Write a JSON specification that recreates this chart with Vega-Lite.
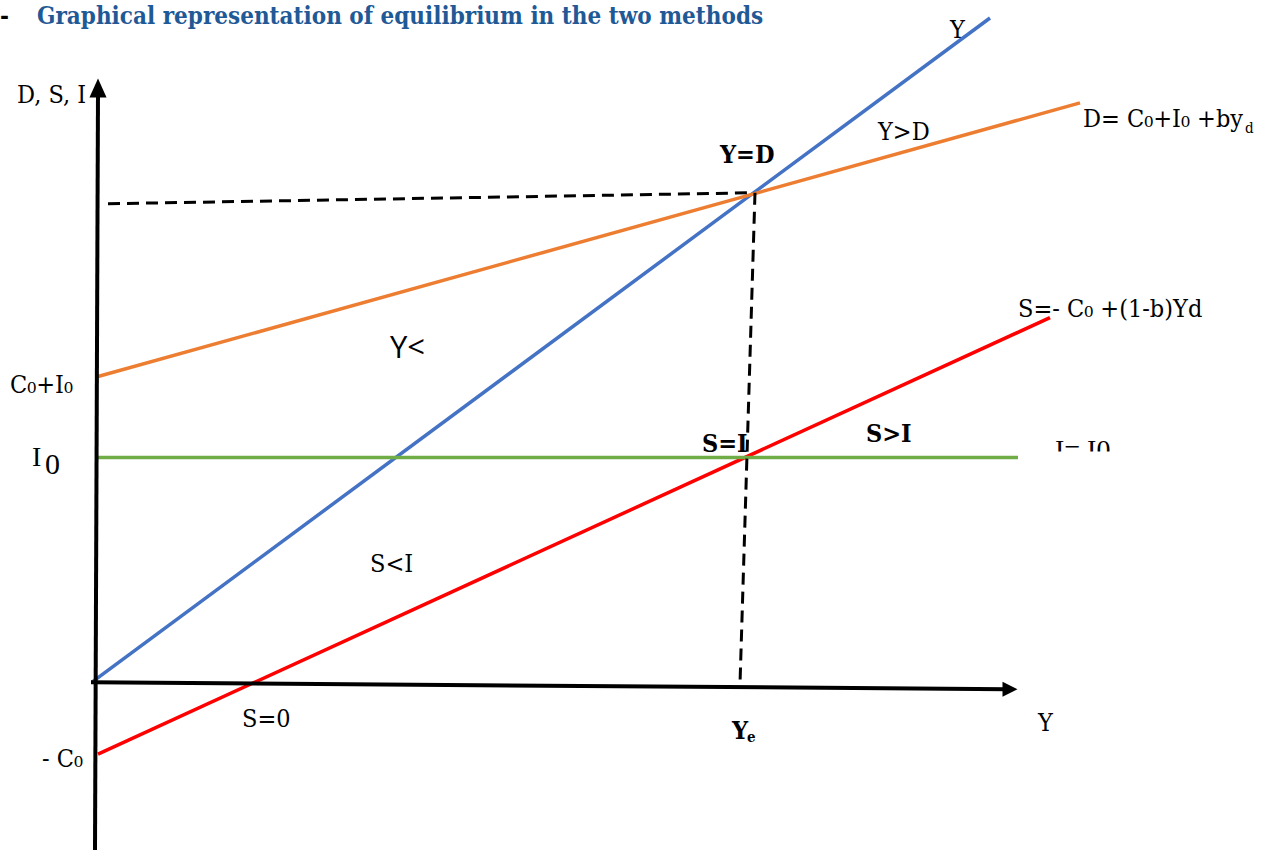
{
  "$schema": "https://vega.github.io/schema/vega-lite/v6.json",
  "width": 1264,
  "height": 852,
  "autosize": {"type": "fit", "contains": "padding"},
  "padding": 0,
  "background": "white",
  "config": {"view": {"stroke": null}},
  "datasets": {
    "seg": [
      {"k": "axis", "s": "yaxis", "x": 0, "y": -168, "x2": 3, "y2": 590},
      {"k": "axis", "s": "xaxis", "x": -4, "y": 0, "x2": 912, "y2": -7},
      {"k": "line", "s": "Y", "x": -3, "y": 0, "x2": 895, "y2": 665},
      {"k": "line", "s": "D", "x": 3, "y": 306, "x2": 985, "y2": 580},
      {"k": "line", "s": "S", "x": 3, "y": -72, "x2": 955, "y2": 365},
      {"k": "line", "s": "I", "x": 3, "y": 225, "x2": 923, "y2": 225},
      {"k": "dash", "s": "h", "x": 13, "y": 479, "x2": 657, "y2": 490},
      {"k": "dash", "s": "v", "x": 660, "y": 490, "x2": 645, "y2": -2}
    ],
    "arrowUp": [{"x": 3, "y": 595}],
    "arrowRight": [{"x": 915, "y": -7}],
    "title": [{"x": -58, "y": 659, "t": "Graphical representation of equilibrium in the two methods"}],
    "dashmark": [{"x": -95, "y": 659, "t": "-"}],
    "lab": [
      {"x": -78, "y": 580, "t": "D, S, I"},
      {"x": 855, "y": 645, "t": "Y"},
      {"x": 783, "y": 543, "t": "Y>D"},
      {"x": 988, "y": 556, "t": "D= C₀+I₀ +by"},
      {"x": 923, "y": 366, "t": "S=- C₀ +(1-b)Yd"},
      {"x": -85, "y": 290, "t": "C₀+I₀"},
      {"x": 275, "y": 110, "t": "S<I"},
      {"x": 147, "y": -45, "t": "S=0"},
      {"x": 943, "y": -49, "t": "Y"},
      {"x": -53, "y": -85, "t": "- C₀"}
    ],
    "sub": [
      {"x": 1150, "y": 550, "t": "d"}
    ],
    "bold": [
      {"x": 625, "y": 520, "t": "Y=D"},
      {"x": 607, "y": 230, "t": "S=I"},
      {"x": 771, "y": 240, "t": "S>I"},
      {"x": 637, "y": -57, "t": "Y"}
    ],
    "subb": [{"x": 652, "y": -60, "t": "e"}],
    "sans": [{"x": 295, "y": 325, "t": "Y<"}],
    "timesI": [{"x": -63, "y": 216, "t": "I"}],
    "times0": [{"x": -50, "y": 208, "t": "0"}],
    "clipped": [{"x": 960, "y": 223, "t": "I= I0"}],
    "cover": [{"x": 940, "y": 231, "x2": 1060, "y2": 195}]
  },
  "encoding": {
    "x": {"field": "x", "type": "quantitative", "scale": {"domain": [-95, 1169], "nice": false, "zero": false}, "axis": null},
    "y": {"field": "y", "type": "quantitative", "scale": {"domain": [-169, 683], "nice": false, "zero": false}, "axis": null}
  },
  "layer": [
    {
      "data": {"name": "seg"},
      "transform": [{"filter": "datum.k == 'line'"}],
      "mark": {"type": "rule", "strokeWidth": 3.5},
      "encoding": {
        "x2": {"field": "x2"},
        "y2": {"field": "y2"},
        "color": {"field": "s", "type": "nominal", "scale": {"domain": ["Y", "D", "S", "I"], "range": ["#4472C4", "#ED7D31", "#FF0000", "#70AD47"]}, "legend": null}
      }
    },
    {
      "data": {"name": "seg"},
      "transform": [{"filter": "datum.k == 'axis'"}],
      "mark": {"type": "rule", "strokeWidth": 4, "color": "black"},
      "encoding": {"x2": {"field": "x2"}, "y2": {"field": "y2"}}
    },
    {
      "data": {"name": "seg"},
      "transform": [{"filter": "datum.k == 'dash'"}],
      "mark": {"type": "rule", "strokeWidth": 3, "color": "black", "strokeDash": [12, 7]},
      "encoding": {"x2": {"field": "x2"}, "y2": {"field": "y2"}}
    },
    {
      "data": {"name": "arrowUp"},
      "mark": {"type": "point", "shape": "M0,-1L0.9,1L-0.9,1Z", "size": 361, "filled": true, "color": "black", "opacity": 1}
    },
    {
      "data": {"name": "arrowRight"},
      "mark": {"type": "point", "shape": "M1,0L-1,1L-1,-1Z", "size": 225, "filled": true, "color": "black", "opacity": 1}
    },
    {
      "data": {"name": "title"},
      "mark": {"type": "text", "align": "left", "baseline": "alphabetic", "font": "DejaVu Serif Condensed", "fontWeight": "bold", "fontSize": 24, "color": "#1f5996"},
      "encoding": {"text": {"field": "t"}}
    },
    {
      "data": {"name": "dashmark"},
      "mark": {"type": "text", "align": "left", "baseline": "alphabetic", "font": "DejaVu Serif Condensed", "fontWeight": "bold", "fontSize": 24, "color": "black"},
      "encoding": {"text": {"field": "t"}}
    },
    {
      "data": {"name": "lab"},
      "mark": {"type": "text", "align": "left", "baseline": "alphabetic", "font": "DejaVu Serif Condensed", "fontSize": 25, "color": "black"},
      "encoding": {"text": {"field": "t"}}
    },
    {
      "data": {"name": "sub"},
      "mark": {"type": "text", "align": "left", "baseline": "alphabetic", "font": "DejaVu Serif Condensed", "fontSize": 15, "color": "black"},
      "encoding": {"text": {"field": "t"}}
    },
    {
      "data": {"name": "bold"},
      "mark": {"type": "text", "align": "left", "baseline": "alphabetic", "font": "DejaVu Serif Condensed", "fontWeight": "bold", "fontSize": 25, "color": "black"},
      "encoding": {"text": {"field": "t"}}
    },
    {
      "data": {"name": "subb"},
      "mark": {"type": "text", "align": "left", "baseline": "alphabetic", "font": "DejaVu Serif Condensed", "fontWeight": "bold", "fontSize": 15, "color": "black"},
      "encoding": {"text": {"field": "t"}}
    },
    {
      "data": {"name": "sans"},
      "mark": {"type": "text", "align": "left", "baseline": "alphabetic", "font": "Open Sans", "fontSize": 31, "color": "black"},
      "encoding": {"text": {"field": "t"}}
    },
    {
      "data": {"name": "timesI"},
      "mark": {"type": "text", "align": "left", "baseline": "alphabetic", "font": "Liberation Serif", "fontSize": 28, "color": "black"},
      "encoding": {"text": {"field": "t"}}
    },
    {
      "data": {"name": "times0"},
      "mark": {"type": "text", "align": "left", "baseline": "alphabetic", "font": "Liberation Serif", "fontSize": 30, "color": "black"},
      "encoding": {"text": {"field": "t"}}
    },
    {
      "data": {"name": "clipped"},
      "mark": {"type": "text", "align": "left", "baseline": "alphabetic", "font": "Liberation Serif", "fontSize": 28, "color": "black"},
      "encoding": {"text": {"field": "t"}}
    },
    {
      "data": {"name": "cover"},
      "mark": {"type": "rect", "color": "white", "opacity": 1},
      "encoding": {"x2": {"field": "x2"}, "y2": {"field": "y2"}}
    }
  ]
}
